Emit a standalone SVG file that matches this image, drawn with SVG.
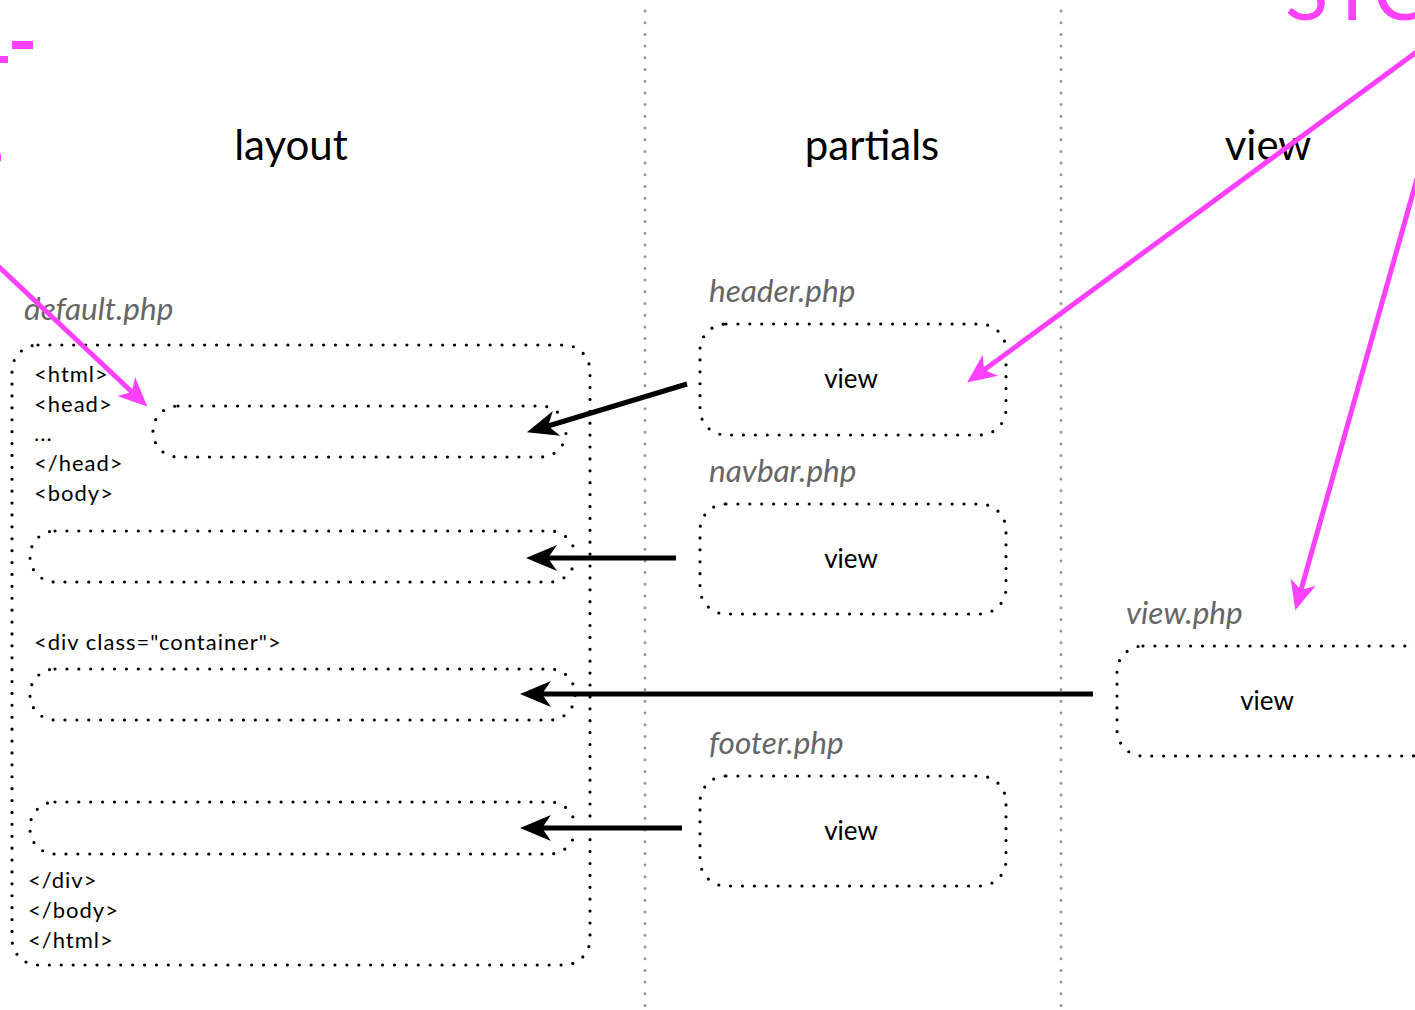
<svg xmlns="http://www.w3.org/2000/svg" width="1415" height="1010" viewBox="0 0 1415 1010">
<style>
.bg{fill:#fff}
.div{stroke:#999;stroke-width:3;stroke-linecap:round;stroke-dasharray:0 11.7;fill:none}
.dot{fill:none;stroke:#000;stroke-width:3.2;stroke-linecap:round;stroke-dasharray:0 11.9}
.title{font-family:Lato,"Liberation Sans",sans-serif;font-size:42px;fill:#000;text-anchor:middle}
.file{font-family:Lato,"Liberation Sans",sans-serif;font-style:italic;font-size:31.5px;fill:#666}
.code{font-family:Lato,"Liberation Sans",sans-serif;font-size:22px;letter-spacing:1px;fill:#000}
.view{font-family:Lato,"Liberation Sans",sans-serif;font-size:26px;fill:#000;text-anchor:middle}
.blk{stroke:#000;stroke-width:5;fill:none}
.pnk{stroke:#FF40FF;stroke-width:5;fill:none}
.big{font-family:Lato,"Liberation Sans",sans-serif;font-size:80px;fill:#FF40FF}
</style>
<defs>
<marker id="ab" markerUnits="userSpaceOnUse" viewBox="-10 -14 36 28" refX="0" refY="0" markerWidth="36" markerHeight="28" orient="auto" overflow="visible">
<path d="M22,0 L-9,-13 L0,0 L-9,13 Z" fill="#000"/>
</marker>
<marker id="ap" markerUnits="userSpaceOnUse" viewBox="-10 -14 36 28" refX="0" refY="0" markerWidth="36" markerHeight="28" orient="auto" overflow="visible">
<path d="M21,0 L-8,-13 L0,0 L-8,13 Z" fill="#FF40FF"/>
</marker>
</defs>
<rect class="bg" x="0" y="0" width="1415" height="1010"/>

<g id="dividers">
<line class="div" x1="645" y1="11" x2="645" y2="1010"/>
<line class="div" x1="1061" y1="11" x2="1061" y2="1010"/>
</g>

<g id="fragments">
<text class="big" x="1285" y="20">STC</text>
<rect x="12" y="41" width="21" height="8" fill="#FF40FF"/>
<rect x="0" y="56" width="8" height="7" fill="#FF40FF"/>
<rect x="0" y="154" width="1" height="7" fill="#FF40FF"/>
</g>

<g id="titles">
<text class="title" x="291" y="160">layout</text>
<text class="title" x="872" y="160">partials</text>
<text class="title" x="1268" y="160">view</text>
</g>

<g id="default-php">
<text class="file" x="24" y="320">default.php</text>
<rect class="dot" x="12" y="345" width="578" height="620" rx="26"/>
<text class="code" x="34" y="382">&lt;html&gt;</text>
<text class="code" x="34" y="412">&lt;head&gt;</text>
<text class="code" x="34" y="441">...</text>
<text class="code" x="34" y="471">&lt;/head&gt;</text>
<text class="code" x="34" y="501">&lt;body&gt;</text>
<text class="code" x="34" y="650">&lt;div class="container"&gt;</text>
<text class="code" x="28" y="888">&lt;/div&gt;</text>
<text class="code" x="28" y="918">&lt;/body&gt;</text>
<text class="code" x="28" y="948">&lt;/html&gt;</text>
</g>
<g id="slot-head"><rect class="dot" x="153" y="406" width="413" height="51" rx="25"/></g>
<g id="slot-navbar"><rect class="dot" x="30" y="531" width="545" height="51" rx="25"/></g>
<g id="slot-content"><rect class="dot" x="30" y="669" width="545" height="51" rx="25"/></g>
<g id="slot-footer"><rect class="dot" x="30" y="802" width="545" height="52" rx="25"/></g>

<g id="header-php">
<text class="file" x="709" y="302">header.php</text>
<rect class="dot" x="700" y="324" width="306" height="111" rx="26"/>
<text class="view" x="851" y="388">view</text>
</g>
<g id="navbar-php">
<text class="file" x="709" y="482">navbar.php</text>
<rect class="dot" x="700" y="504" width="306" height="110" rx="26"/>
<text class="view" x="851" y="568">view</text>
</g>
<g id="footer-php">
<text class="file" x="709" y="754">footer.php</text>
<rect class="dot" x="700" y="776" width="306" height="110" rx="26"/>
<text class="view" x="851" y="840">view</text>
</g>
<g id="view-php">
<text class="file" x="1126" y="624">view.php</text>
<rect class="dot" x="1117" y="646" width="320" height="110" rx="26"/>
<text class="view" x="1267" y="710">view</text>
</g>

<g id="connectors">
<line class="blk" x1="687" y1="384" x2="548" y2="426" marker-end="url(#ab)"/>
<line class="blk" x1="676" y1="558" x2="548" y2="558" marker-end="url(#ab)"/>
<line class="blk" x1="1093" y1="694" x2="542" y2="694" marker-end="url(#ab)"/>
<line class="blk" x1="682" y1="828" x2="542" y2="828" marker-end="url(#ab)"/>
<line class="pnk" x1="-20" y1="249" x2="132" y2="392" marker-end="url(#ap)"/>
<line class="pnk" x1="1430" y1="42" x2="984" y2="370" marker-end="url(#ap)"/>
<line class="pnk" x1="1420" y1="168" x2="1301" y2="590" marker-end="url(#ap)"/>
</g>
</svg>
